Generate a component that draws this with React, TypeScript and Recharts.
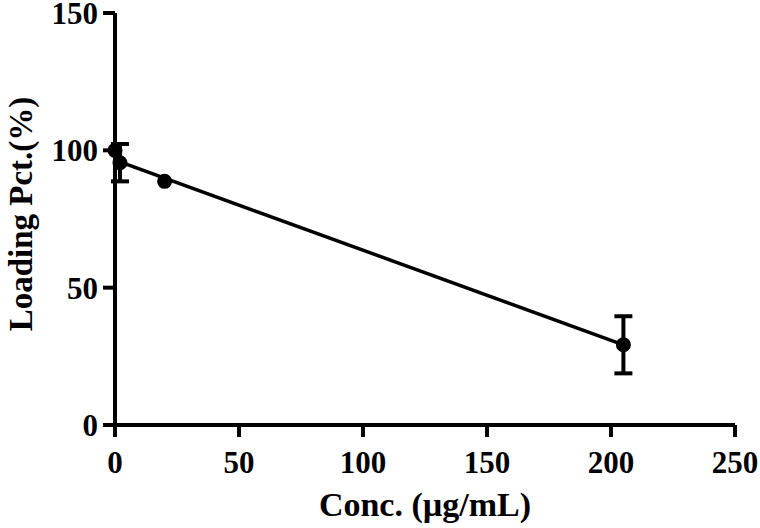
import React from 'react';
import {
  ComposedChart,
  Scatter,
  XAxis,
  YAxis,
  ErrorBar,
} from 'recharts';

// measured points (mean ± SD)
const concs = [0, 2, 20, 205];
const loading = [100, 95.5, 88.7, 29.2];
const sds = [0, 6.8, 0, 10.4];

// fitted line endpoints
const fitX = [2, 205];
const fitY = [95.8, 29.2];

const xTicks = [0, 50, 100, 150, 200, 250];
const yTicks = [0, 50, 100, 150];

const points = concs.map((c, i) => ({ x: c, y: loading[i], err: sds[i] }));
const fit = fitX.map((x, i) => ({ x, y: fitY[i] }));

const FONT = '"Liberation Serif", "Times New Roman", serif';
const tickStyle = { fontFamily: FONT, fontWeight: 700, fontSize: 31, fill: '#000' };
const axisLine = { stroke: '#000', strokeWidth: 4 };

const YTitle = (props: any) => {
  const vb = props.viewBox || {};
  const cy = vb.y + vb.height / 2 - 5;
  return (
    <text
      x={21}
      y={cy}
      transform={`rotate(-90, 21, ${cy})`}
      textAnchor="middle"
      dominantBaseline="central"
      style={{ ...tickStyle, fontSize: 33 }}
    >
      Loading Pct.(%)
    </text>
  );
};

const App: React.FC = () => {
  return (
    <div style={{ position: 'absolute', left: 0, top: 0, background: '#fff' }}>
      <ComposedChart
        width={760}
        height={528}
        margin={{ top: 13, right: 25, bottom: 0, left: 0 }}
      >
        <XAxis
          type="number"
          dataKey="x"
          domain={[0, 250]}
          ticks={xTicks}
          interval={0}
          axisLine={axisLine}
          tickLine={axisLine}
          tickSize={12}
          tickMargin={14}
          tick={tickStyle}
          height={103}
          label={{
            value: 'Conc. (µg/mL)',
            position: 'insideBottom',
            offset: 12,
            style: { ...tickStyle, fontSize: 34 },
          }}
        />
        <YAxis
          type="number"
          dataKey="y"
          domain={[0, 150]}
          ticks={yTicks}
          interval={0}
          axisLine={axisLine}
          tickLine={axisLine}
          tickSize={12}
          tickMargin={5}
          tick={tickStyle}
          width={115}
          label={{ content: YTitle }}
        />
        <Scatter
          data={fit}
          line={{ stroke: '#000', strokeWidth: 3.5 }}
          shape={() => null}
          isAnimationActive={false}
        />
        <Scatter
          data={points}
          fill="#000"
          shape={(p: any) => <circle cx={p.cx} cy={p.cy} r={7.5} fill="#000" />}
          isAnimationActive={false}
        >
          <ErrorBar dataKey="err" direction="y" width={9} stroke="#000" strokeWidth={4} />
        </Scatter>
      </ComposedChart>
    </div>
  );
};

export default App;
